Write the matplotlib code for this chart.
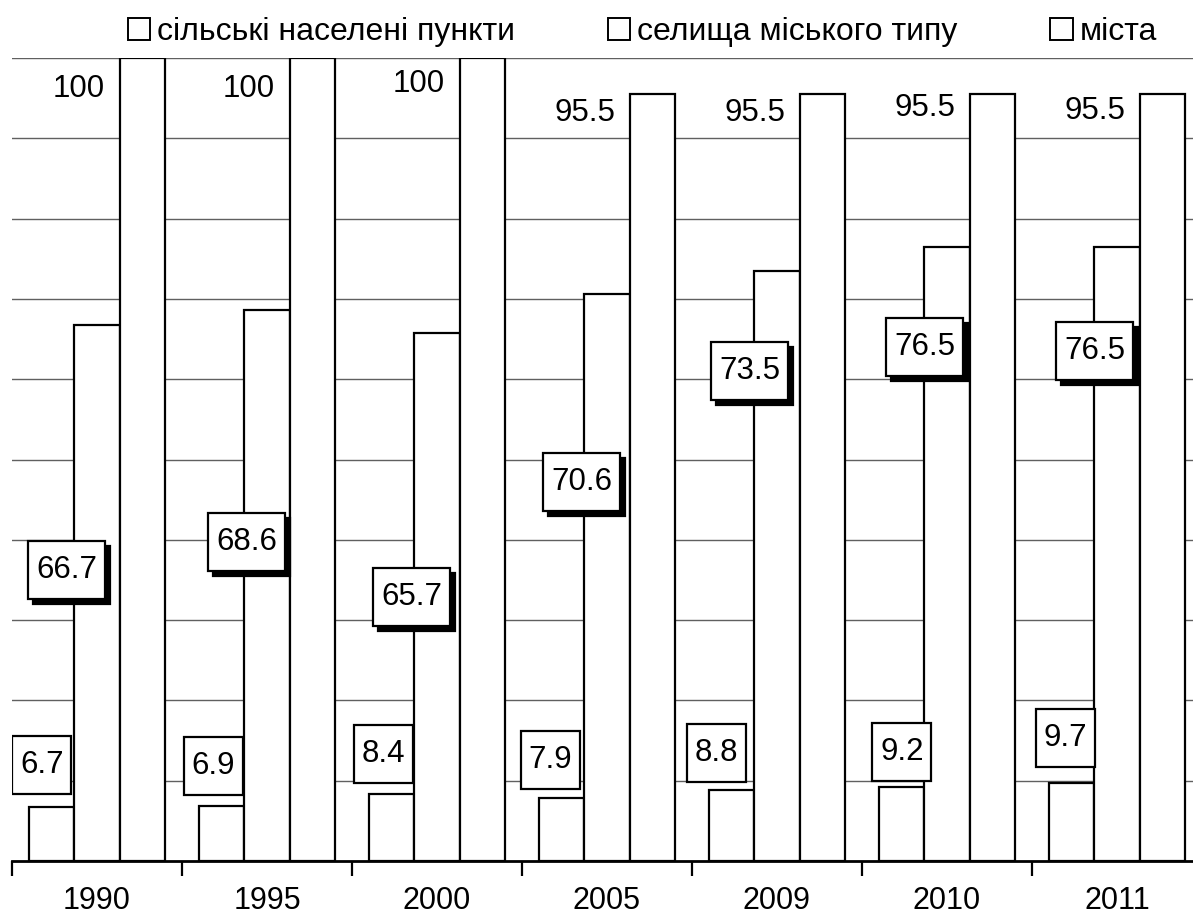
import matplotlib
matplotlib.use('Agg')
import matplotlib.pyplot as plt
from matplotlib.patches import Patch, Rectangle
import numpy as np

plt.rcParams['font.family'] = ['Liberation Sans', 'DejaVu Sans']

years = ['1990', '1995', '2000', '2005', '2009', '2010', '2011']
rural = [6.7, 6.9, 8.4, 7.9, 8.8, 9.2, 9.7]
urban = [66.7, 68.6, 65.7, 70.6, 73.5, 76.5, 76.5]
cities = [100, 100, 100, 95.5, 95.5, 95.5, 95.5]
series_names = ['сільські населені пункти', 'селища міського типу', 'міста']

# hand-placed label positions (as in the original chart)
rural_dx = [-0.06, -0.05, -0.05, -0.07, -0.09, 0.0, -0.04]
rural_ly = [12.0, 11.8, 13.3, 12.6, 13.4, 13.6, 15.3]
urban_dx = [-0.18, -0.12, -0.15, -0.15, -0.16, -0.13, -0.13]
urban_ly = [36.2, 39.7, 32.9, 47.2, 61.0, 64.0, 63.5]
city_ly = [96.2, 96.2, 96.8, 93.2, 93.2, 93.8, 93.4]

W, H = 1193, 919
fig = plt.figure(figsize=(W / 100, H / 100), dpi=100)
ax = fig.add_axes([12 / W, 58 / H, 1190 / W, 803 / H])

x = np.arange(len(years))
w = 0.265
bar_kw = dict(width=w, color='white', edgecolor='black', linewidth=1.6, zorder=3)
ax.bar(x - w, rural, **bar_kw)
ax.bar(x, urban, **bar_kw)
ax.bar(x + w, cities, **bar_kw)

ax.set_xlim(-0.5, len(years) - 0.5)
ax.set_ylim(0, 100)
ax.set_yticks(np.arange(10, 101, 10))
ax.yaxis.grid(True, color='#606060', linewidth=1.0, zorder=0)
ax.set_axisbelow(True)
ax.tick_params(axis='y', left=False, labelleft=False)

ax.set_xticks(x)
ax.set_xticklabels(years, fontsize=22)
ax.tick_params(axis='x', which='major', length=0, pad=18)
ax.set_xticks(np.arange(-0.5, len(years), 1), minor=True)
ax.tick_params(axis='x', which='minor', length=11, width=1.6, direction='out')

for s in ('top', 'right', 'left'):
    ax.spines[s].set_visible(False)
ax.spines['bottom'].set_linewidth(2)
ax.spines['bottom'].set_zorder(4)

# pixel -> data conversions for the label boxes
px_x = 1.0 / 170
px_y = 100.0 / 803
fs = 22.5


def label_box(cx, cy, text, wpx, hpx, shadow=False):
    bw, bh = wpx * px_x, hpx * px_y
    if shadow:
        ax.add_patch(Rectangle((cx - bw / 2 + 5 * px_x, cy - bh / 2 - 5 * px_y), bw, bh,
                               facecolor='black', edgecolor='black', lw=1.6, zorder=5))
    ax.add_patch(Rectangle((cx - bw / 2, cy - bh / 2), bw, bh,
                           facecolor='white', edgecolor='black', lw=1.6, zorder=6))
    ax.text(cx, cy, text, ha='center', va='center', fontsize=fs, zorder=7)


for i in range(len(years)):
    label_box(x[i] - w + rural_dx[i], rural_ly[i], f"{rural[i]}", 59, 58)
    label_box(x[i] + urban_dx[i], urban_ly[i], f"{urban[i]}", 77, 58, shadow=True)
    ax.text(x[i] + w / 2 - 0.085, city_ly[i], f"{cities[i]:g}", ha='right', va='center',
            fontsize=fs, zorder=6)

handles = [Patch(facecolor='white', edgecolor='black', linewidth=1.4) for _ in series_names]
fig.legend(handles, series_names, loc='center left', bbox_to_anchor=(128 / W, 1 - 32 / H),
           bbox_transform=fig.transFigure, ncol=3, frameon=False, fontsize=23,
           handlelength=0.7, handleheight=0.7, handletextpad=0.22, columnspacing=2.9,
           borderpad=0, borderaxespad=0)

fig.savefig('out.png', dpi=100, facecolor='white')
